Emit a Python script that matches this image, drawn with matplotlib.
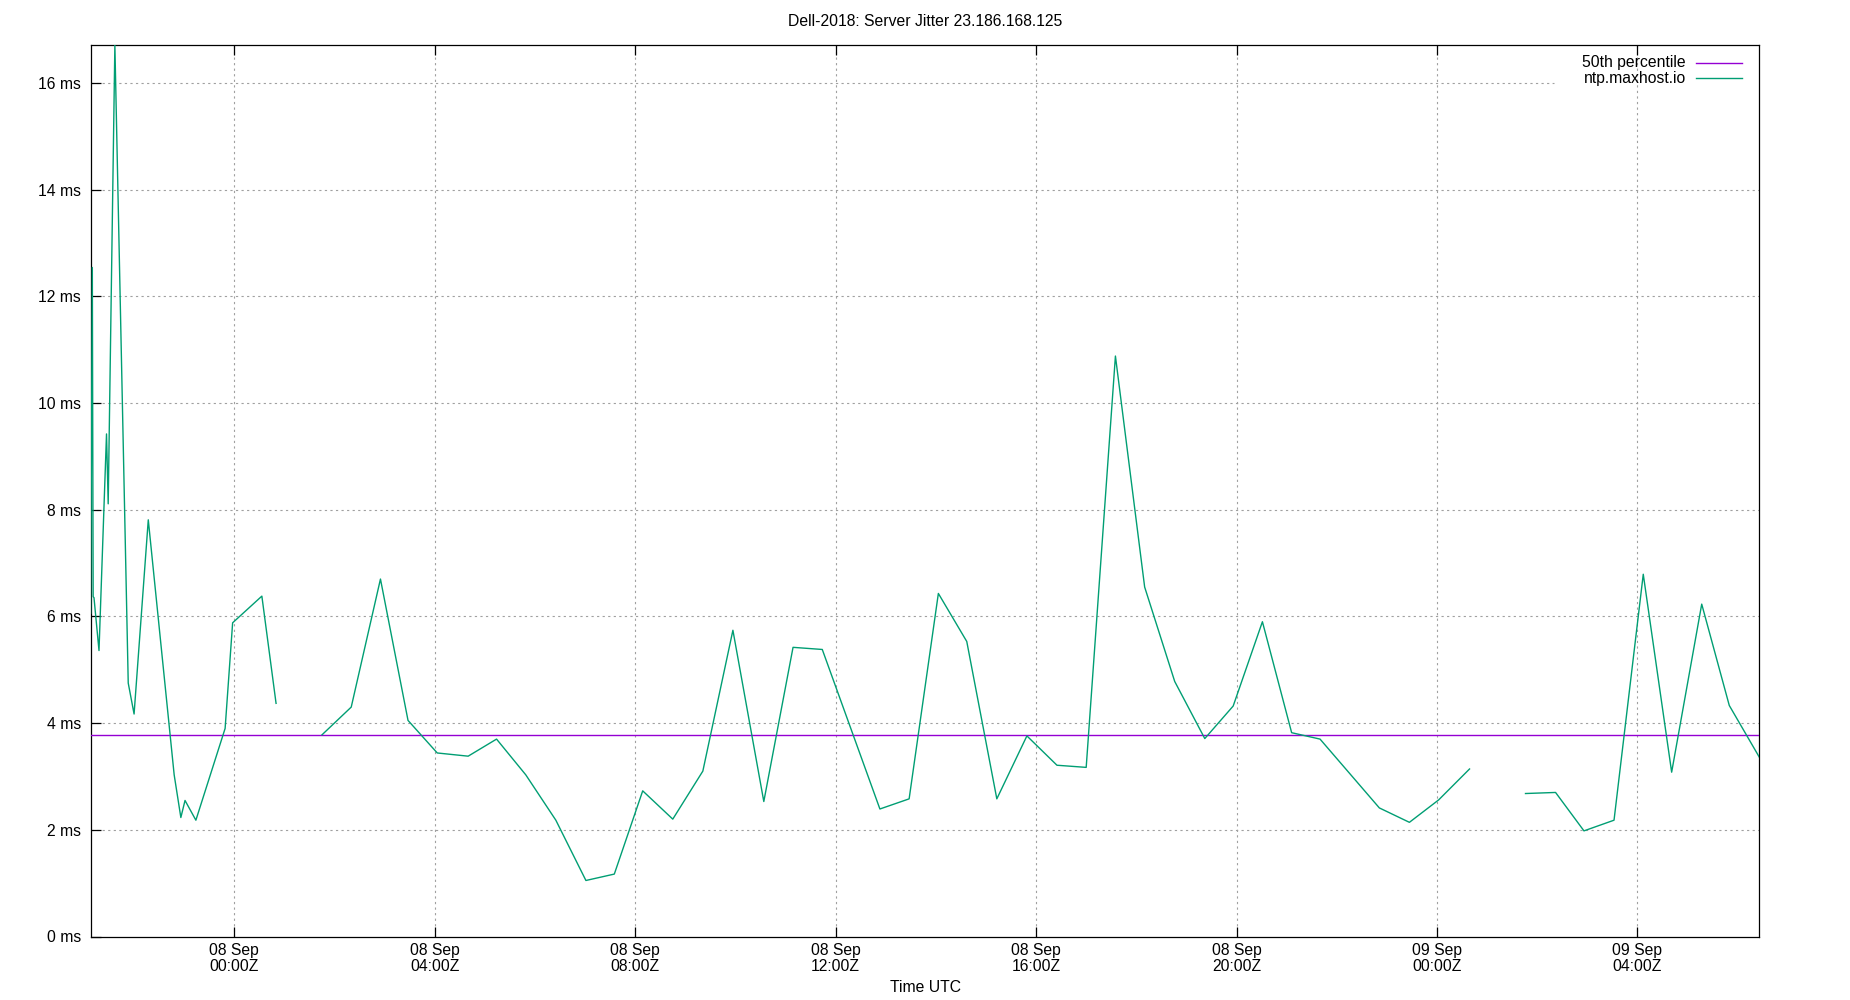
import matplotlib
matplotlib.use("Agg")
import matplotlib.pyplot as plt
import matplotlib.dates as mdates
import numpy as np
import pandas as pd

# ---------------- data ----------------
times = [
    "2018-09-07 21:08", "2018-09-07 21:10", "2018-09-07 21:11", "2018-09-07 21:12",
    "2018-09-07 21:18", "2018-09-07 21:27", "2018-09-07 21:29", "2018-09-07 21:37",
    "2018-09-07 21:53", "2018-09-07 22:00", "2018-09-07 22:17", "2018-09-07 22:48",
    "2018-09-07 22:56", "2018-09-07 23:01", "2018-09-07 23:14", "2018-09-07 23:49",
    "2018-09-07 23:58", "2018-09-08 00:33", "2018-09-08 00:50", "2018-09-08 01:16",
    "2018-09-08 01:45", "2018-09-08 02:20", "2018-09-08 02:55", "2018-09-08 03:28",
    "2018-09-08 04:03", "2018-09-08 04:40", "2018-09-08 05:14", "2018-09-08 05:49",
    "2018-09-08 06:25", "2018-09-08 07:01", "2018-09-08 07:35", "2018-09-08 08:09",
    "2018-09-08 08:45", "2018-09-08 09:21", "2018-09-08 09:57", "2018-09-08 10:34",
    "2018-09-08 11:09", "2018-09-08 11:44", "2018-09-08 12:53", "2018-09-08 13:28",
    "2018-09-08 14:03", "2018-09-08 14:37", "2018-09-08 15:13", "2018-09-08 15:49",
    "2018-09-08 16:25", "2018-09-08 17:00", "2018-09-08 17:35", "2018-09-08 18:10",
    "2018-09-08 18:46", "2018-09-08 19:22", "2018-09-08 19:56", "2018-09-08 20:31",
    "2018-09-08 21:06", "2018-09-08 21:40", "2018-09-08 22:51", "2018-09-08 23:27",
    "2018-09-09 00:02", "2018-09-09 00:39", "2018-09-09 01:10", "2018-09-09 01:46",
    "2018-09-09 02:22", "2018-09-09 02:56", "2018-09-09 03:32", "2018-09-09 04:07",
    "2018-09-09 04:41", "2018-09-09 05:17", "2018-09-09 05:50", "2018-09-09 06:26",
]
jitter_ms = [
    6.06, 12.54, 6.37, 6.35,
    5.36, 9.42, 8.11, 16.71,
    4.75, 4.17, 7.81, 3.03,
    2.23, 2.55, 2.18, 3.90,
    5.88, 6.38, 4.37, np.nan,
    3.78, 4.30, 6.70, 4.05,
    3.44, 3.38, 3.70, 3.03,
    2.18, 1.05, 1.17, 2.73,
    2.20, 3.10, 5.74, 2.53,
    5.42, 5.38, 2.39, 2.58,
    6.43, 5.53, 2.58, 3.76,
    3.21, 3.17, 10.88, 6.55,
    4.78, 3.71, 4.32, 5.90,
    3.82, 3.70, 2.41, 2.14,
    2.56, 3.14, np.nan, 2.68,
    2.70, 1.98, 2.18, 6.79,
    3.08, 6.23, 4.33, 3.36,
]
median_ms = 3.77

title = "Dell-2018: Server Jitter 23.186.168.125"
series_label = "ntp.maxhost.io"
median_label = "50th percentile"
x_label = "Time UTC"
y_ticks = [0, 2, 4, 6, 8, 10, 12, 14, 16]
x_tick_format = "%d %b\n%H:%MZ"

# ---------------- plot ----------------
plt.rcParams["font.family"] = ["Liberation Sans", "DejaVu Sans"]
plt.rcParams["font.size"] = 11.3

t = pd.to_datetime(times)
y = np.array(jitter_ms, dtype=float)

fig = plt.figure(figsize=(18.5, 10), dpi=100)
ax = fig.add_axes([0.049, 0.0635, 0.902, 0.8915])

green = "#009e73"
purple = "#9400d3"
grid_kw = dict(color="#a0a0a0", linestyle=(0, (2, 3)), linewidth=0.8, zorder=1)

ax.axhline(median_ms, color=purple, lw=1.0, zorder=3)
ax.plot(t, y, color=green, lw=1.0, zorder=4)

ax.set_xlim(t.min(), t.max())
ax.set_ylim(0, np.nanmax(y))

ax.set_yticks(y_ticks)
ax.set_yticklabels([f"{v} ms" for v in y_ticks])

locator = mdates.HourLocator(byhour=range(0, 24, 4))
ax.xaxis.set_major_locator(locator)
xt = [v for v in locator() if ax.get_xlim()[0] <= v <= ax.get_xlim()[1]]
ax.set_xticks(xt)
ax.set_xticklabels([mdates.num2date(v).strftime(x_tick_format) for v in xt],
                   linespacing=1.08)

# vertical grid through the library, horizontal grid drawn per tick
ax.xaxis.grid(True, **grid_kw)
ax.yaxis.grid(False)
key_left = (1554 - 90.7) / 1668.6   # the key box hides the top gridline here
for v in y_ticks[1:]:
    if v == y_ticks[-1]:
        ax.axhline(v, xmin=0, xmax=key_left, **grid_kw)
    else:
        ax.axhline(v, **grid_kw)

ax.tick_params(axis="x", direction="in", length=7.5, width=0.9, top=True, bottom=True, pad=4.5)
ax.tick_params(axis="y", direction="in", length=7.5, width=0.9, left=True, right=False, pad=7)
for s in ax.spines.values():
    s.set_linewidth(0.9)

fig.text(0.5, 0.978, title, ha="center", va="center", fontsize=11.3)
fig.text(0.5, 0.013, x_label, ha="center", va="center", fontsize=11.3)

# legend in gnuplot style (right-aligned text, sample line on the right)
ly1 = 1 - (63 - 45) / 891.5
ly2 = 1 - (78.3 - 45) / 891.5
tx = (1686 - 90.7) / 1668.6
lx0 = (1696 - 90.7) / 1668.6
lx1 = (1742 - 90.7) / 1668.6
ax.text(tx, ly1, median_label, transform=ax.transAxes, ha="right", va="center", zorder=5)
ax.text(tx, ly2, series_label, transform=ax.transAxes, ha="right", va="center", zorder=5)
ax.plot([lx0, lx1], [ly1, ly1], transform=ax.transAxes, color=purple, lw=1.0, zorder=5)
ax.plot([lx0, lx1], [ly2, ly2], transform=ax.transAxes, color=green, lw=1.0, zorder=5)

fig.savefig("out.png", dpi=100)
